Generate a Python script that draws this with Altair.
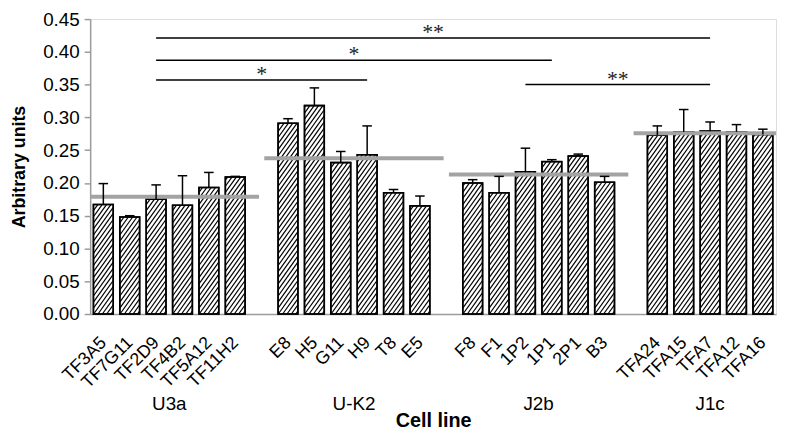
import altair as alt
import pandas as pd

groups = ["U3a", "U-K2", "J2b", "J1c"]
cells = [
    ["TF3A5", "TF7G11", "TF2D9", "TF4B2", "TF5A12", "TF11H2"],
    ["E8", "H5", "G11", "H9", "T8", "E5"],
    ["F8", "F1", "1P2", "1P1", "2P1", "B3"],
    ["TFA24", "TFA15", "TFA7", "TFA12", "TFA16"],
]
values = [
    [0.167, 0.148, 0.175, 0.166, 0.193, 0.209],
    [0.291, 0.318, 0.231, 0.243, 0.185, 0.165],
    [0.200, 0.185, 0.217, 0.2325, 0.241, 0.201],
    [0.273, 0.278, 0.279, 0.278, 0.274],
]
errors = [
    [0.032, 0.002, 0.022, 0.045, 0.023, 0.001],
    [0.007, 0.027, 0.017, 0.044, 0.005, 0.015],
    [0.005, 0.025, 0.036, 0.003, 0.003, 0.009],
    [0.014, 0.034, 0.014, 0.011, 0.008],
]
group_means = [0.179, 0.2375, 0.213, 0.2757]

sig_from = ["TF2D9", "TF2D9", "TF2D9", "1P2"]
sig_to = ["TFA7", "1P1", "H9", "TFA7"]
sig_level = [0.421, 0.387, 0.357, 0.350]
sig_text = ["**", "*", "*", "**"]

Y_MAX = 0.45
W, H = 693, 298
PAD_TOP = 9

# ---- build tables from the arrays ----
rows, slot_names, mean_rows, lab_rows = [], [], [], []
idx = 0
for g, names, vals, errs, mu in zip(groups, cells, values, errors, group_means):
    first = idx
    for n, v, e in zip(names, vals, errs):
        rows.append({"group": g, "cell": n, "idx": idx, "value": v, "err": e})
        slot_names.append(n)
        idx += 1
    last = idx - 1
    mean_rows.append({"group": g, "lo": first - 0.9, "hi": last + 0.9, "mean": mu})
    lab_rows.append({"group": g, "pos": (first + last) / 2})
    slot_names.append("")
    idx += 1
n_slots = idx - 1
slot_names = slot_names[:n_slots]
df = pd.DataFrame(rows)
df["lo"] = df["idx"] - 0.375
df["hi"] = df["idx"] + 0.375
df["top"] = df["value"] + df["err"]
df["clo"] = df["idx"] - 0.18
df["chi"] = df["idx"] + 0.18

pos_of = dict(zip(df["cell"], df["idx"]))
sig_df = pd.DataFrame({
    "a": [pos_of[c] for c in sig_from],
    "b": [pos_of[c] for c in sig_to],
    "level": sig_level,
    "label": sig_text,
})
sig_df["mid"] = (sig_df["a"] + sig_df["b"]) / 2

# hatch segments derived from each bar's value through the chart geometry
step = W / n_slots
ppu = H / Y_MAX
bw = 0.75 * step
m, p = 1.4, 4.4
hatch = []
for r in rows:
    hp = r["value"] * ppu
    c = -m * bw + m * p * 0.5
    while c < hp:
        x0 = max(0.0, -c / m)
        x1 = min(bw, (hp - c) / m)
        if x1 - x0 > 0.3:
            hatch.append({
                "lo": r["idx"] - 0.375 + x0 / step, "value": (m * x0 + c) / ppu,
                "hx2": r["idx"] - 0.375 + x1 / step, "hy2": (m * x1 + c) / ppu,
            })
        c += m * p
hatch_df = pd.DataFrame(hatch)

FONT = "Liberation Sans"
GRAY = "#9c9c9c"

xscale = alt.Scale(domain=[-0.5, n_slots - 0.5], nice=False, zero=False)
yscale = alt.Scale(domain=[0, Y_MAX], nice=False)

label_expr = "[" + ",".join("'" + s + "'" for s in slot_names) + "][datum.value]"

xaxis = alt.Axis(
    values=list(df["idx"]), labelExpr=label_expr, ticks=False, grid=False,
    labelAngle=-45, labelAlign="right", labelBaseline="middle", labelPadding=26,
    labelOverlap=False, labelBound=False, labelFlush=False,
    labelFontSize=18, labelFont=FONT, labelColor="black",
    domainColor=GRAY, domainWidth=1.5,
    title="Cell line", titleFont=FONT, titleFontSize=20, titleFontWeight="bold",
    titleY=108, titleBaseline="middle", titleColor="black",
)
yaxis = alt.Axis(
    values=[round(0.05 * i, 2) for i in range(10)], format=".2f", grid=False,
    tickSize=6, tickColor=GRAY, tickWidth=1.5, labelPadding=5,
    labelOverlap=False, labelFlush=False,
    labelFontSize=19, labelFont=FONT, labelColor="black",
    domainColor=GRAY, domainWidth=1.5,
    title="Arbitrary units", titleFont=FONT, titleFontSize=18, titleFontWeight="bold",
    titleAngle=-90, titleX=-71, titleY=H / 2, titleBaseline="middle", titleAlign="center",
    titleColor="black",
)


def X(field):
    return alt.X(field, scale=xscale, axis=xaxis)


def Y(field):
    return alt.Y(field, scale=yscale, axis=yaxis)


base = alt.Chart(df)

bars = base.mark_bar(fill="white", stroke="black", strokeWidth=1.5).encode(
    x=X("lo:Q"), x2="hi:Q", y=Y("value:Q"), y2=alt.datum(0),
)

hatch_layer = alt.Chart(hatch_df).mark_rule(color="black", strokeWidth=1.2).encode(
    x=X("lo:Q"), y=Y("value:Q"), x2="hx2:Q", y2="hy2:Q",
)

outline = base.mark_bar(fillOpacity=0, stroke="black", strokeWidth=1.6).encode(
    x=X("lo:Q"), x2="hi:Q", y=Y("value:Q"), y2=alt.datum(0),
)

err_stem = base.mark_rule(color="black", strokeWidth=1.5).encode(
    x=X("idx:Q"), y=Y("value:Q"), y2="top:Q",
)
err_cap = base.mark_rule(color="black", strokeWidth=1.5).encode(
    x=X("clo:Q"), x2="chi:Q", y=Y("top:Q"),
)

mean_lines = alt.Chart(pd.DataFrame(mean_rows)).mark_rule(
    color="#a3a3a3", strokeWidth=4, clip=True
).encode(
    x=X("lo:Q"), x2="hi:Q", y=Y("mean:Q"),
)

sig_lines = alt.Chart(sig_df).mark_rule(color="black", strokeWidth=1.5).encode(
    x=X("a:Q"), x2="b:Q", y=Y("level:Q"),
)
sig_marks = alt.Chart(sig_df).mark_text(
    font="Liberation Serif", fontSize=22, color="#222222", baseline="middle", dy=-6
).encode(
    x=X("mid:Q"), y=Y("level:Q"), text="label:N",
)

group_labels = alt.Chart(pd.DataFrame(lab_rows)).mark_text(
    font=FONT, fontSize=19, color="black", baseline="middle"
).encode(
    x=X("pos:Q"), y=alt.value(H + 91), text="group:N",
)

chart = alt.layer(
    bars, hatch_layer, outline, mean_lines, err_stem, err_cap,
    sig_lines, sig_marks, group_labels,
).properties(
    width=W, height=H,
    autosize=alt.AutoSizeParams(type="none"),
    padding={"left": 83, "top": PAD_TOP, "right": 6, "bottom": 423 - PAD_TOP - H},
).configure_view(
    stroke=GRAY, strokeWidth=1.5
).configure(background="white")

chart.save("out.html", embed_options={"renderer": "svg", "actions": False})
